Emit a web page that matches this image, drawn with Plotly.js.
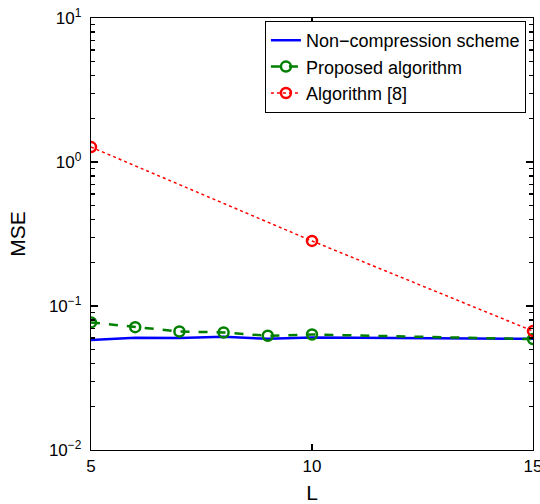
<!DOCTYPE html>
<html><head><meta charset="utf-8">
<script src="https://cdn.plot.ly/plotly-3.0.1.min.js"></script>
<style>body{margin:0;padding:0;background:#fff}#c{width:540px;height:504px}</style>
</head><body><div id="c"></div>
<script>
const xBlue = [5,6,7,8,9,10,11,12,13,14,15];
const yBlue = [0.0580,0.0603,0.0600,0.0611,0.0592,0.0605,0.0603,0.0601,0.0599,0.0596,0.0592];
const xGreen = [5,6,7,8,9,10,15];
const yGreen = [0.0769,0.0713,0.0665,0.0655,0.0621,0.0634,0.0589];
const xRed = [5,10,15];
const yRed = [1.27,0.283,0.067];
const yTickVals = [0.01,0.1,1,10];
const yTickText = ['10<sup>−2</sup>','10<sup>−1</sup>','10<sup>0</sup>','10<sup>1</sup>'];
const xTickVals = [5,10,15];
const names = ['Non−compression scheme','Proposed algorithm','Algorithm [8]'];

const fam = 'Liberation Sans, Arial, sans-serif';
const tickFont = {family:fam, size:17, color:'#000'};
const legFont = {family:fam, size:18, color:'#000'};
const titleFont = {family:fam, size:21, color:'#000'};
const traces = [
  {x:xBlue,y:yBlue,name:names[0],mode:'lines',line:{color:'#0000ff',width:2.5}},
  {x:xGreen,y:yGreen,name:names[1],mode:'lines+markers',line:{color:'#007f00',width:2.5,dash:'dash'},
   marker:{symbol:'circle-open',size:10,color:'#007f00',line:{width:2.5}}},
  {x:xRed,y:yRed,name:names[2],mode:'lines+markers',line:{color:'#ff0000',width:1.5,dash:'dot'},
   marker:{symbol:'circle-open',size:10,color:'#ff0000',line:{width:2.5}}}
];
const layout = {
  width:540,height:504,
  margin:{l:91,r:7,t:18,b:54},
  paper_bgcolor:'#fff',plot_bgcolor:'#fff',
  font:tickFont,
  showlegend:true,
  legend:{x:0.984,y:0.993,xanchor:'right',yanchor:'top',bordercolor:'#000',borderwidth:1,
    bgcolor:'#fff',font:legFont,tracegroupgap:0,itemwidth:30},
  xaxis:{range:[5,15],tickvals:xTickVals,ticks:'inside',ticklen:6,tickwidth:1.2,tickcolor:'#000',
    showline:true,linecolor:'#000',linewidth:1.2,mirror:'ticks',showgrid:false,zeroline:false,
    ticklabeloverflow:'allow',
    tickfont:tickFont,title:{text:'L',font:titleFont,standoff:12}},
  yaxis:{type:'log',range:[-2,1],tickvals:yTickVals,ticktext:yTickText,ticks:'inside',ticklen:7,tickwidth:1.2,
    tickcolor:'#000',showline:true,linecolor:'#000',linewidth:1.2,mirror:'ticks',showgrid:false,
    zeroline:false,tickfont:tickFont,ticklabelstandoff:5,title:{text:'MSE',font:titleFont,standoff:17},
    minor:{ticks:'inside',ticklen:4,tickwidth:1.2,tickcolor:'#000',dtick:'D1',showgrid:false}}
};
Plotly.newPlot('c',traces,layout,{displayModeBar:false,staticPlot:true});
</script></body></html>
